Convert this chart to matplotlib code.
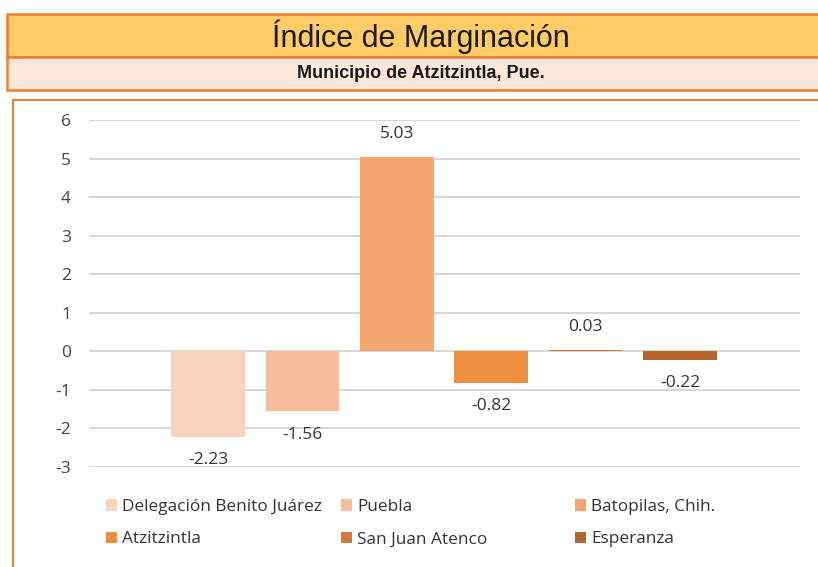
import numpy as np
import matplotlib.pyplot as plt
from matplotlib.patches import Rectangle, Patch

# Datos del gráfico
municipios = ['Delegación Benito Juárez', 'Puebla', 'Batopilas, Chih.',
              'Atzitzintla', 'San Juan Atenco', 'Esperanza']
indice = [-2.23, -1.56, 5.03, -0.82, 0.03, -0.22]
colores = ['#F8D3C0', '#F6BC9B', '#F5A770', '#EC8D40', '#D67B35', '#B5652C']

plt.rcParams['font.family'] = ['Open Sans', 'DejaVu Sans']
plt.rcParams['axes.unicode_minus'] = False

W, H = 818, 567
fig = plt.figure(figsize=(W / 100, H / 100), dpi=100)
fig.patch.set_facecolor('white')

def box(x0, y0, x1, y1, face, lw):
    # coordenadas en píxeles desde arriba
    fig.patches.append(Rectangle((x0 / W, 1 - y1 / H), (x1 - x0) / W, (y1 - y0) / H,
                                 transform=fig.transFigure, facecolor=face,
                                 edgecolor='#ED7D31', linewidth=lw, zorder=0))

box(7, 14, 830, 57, '#FFCC66', 1.8)
box(7, 57, 830, 90, '#FCE8DA', 1.8)
box(13, 100, 830, 580, 'white', 1.5)

narrow = ['Liberation Sans Narrow', 'Liberation Sans', 'DejaVu Sans']
fig.text(421 / W, 1 - 37 / H, 'Índice de Marginación', ha='center', va='center',
         fontsize=22, family=narrow, color='#1a1a1a')
fig.text(421 / W, 1 - 74 / H, 'Municipio de Atzitzintla, Pue.', ha='center', va='center',
         fontsize=13, family=narrow, fontweight='bold', color='#1a1a1a')

# Ejes: y=6 en 120 px, y=-3 en 467 px; x de 89 a 800 px
ax = fig.add_axes([89 / W, 1 - 467 / H, (800 - 89) / W, (467 - 120) / H])
ax.set_zorder(5)
ax.set_ylim(-3, 6)
ax.set_xlim(-1.26, len(indice) - 1 + 1.27)
x = np.arange(len(indice))
bars = ax.bar(x, indice, width=0.78, color=colores, zorder=3)
for b, v in zip(bars, indice):
    off = 0.6 if v >= 0 else -0.6
    ax.text(b.get_x() + b.get_width() / 2, v + off, f'{v:.2f}', ha='center',
            va='center', fontsize=12.5, color='#333333')

ax.set_yticks(range(-3, 7))
ax.yaxis.grid(True, color='#D0D0D0', linewidth=1.2, zorder=0)
ax.set_xticks([])
for s in ax.spines.values():
    s.set_visible(False)
ax.tick_params(axis='y', length=0, pad=13, labelsize=12.5, labelcolor='#444444')
ax.set_facecolor('none')

# Leyenda en tres columnas, orden por filas
handles = [Patch(facecolor=c) for c in colores]
cols = [(0, 3, 106), (1, 4, 341), (2, 5, 575)]
for i, j, px in cols:
    fig.legend([handles[i], handles[j]], [municipios[i], municipios[j]],
               loc='upper left', bbox_to_anchor=(px / W, 1 - 499 / H), frameon=False,
               fontsize=12.4, handlelength=0.65, handleheight=0.65, handletextpad=0.3,
               labelspacing=0.95, labelcolor='#333333', borderaxespad=0, borderpad=0)

fig.savefig('out.png', dpi=100)
